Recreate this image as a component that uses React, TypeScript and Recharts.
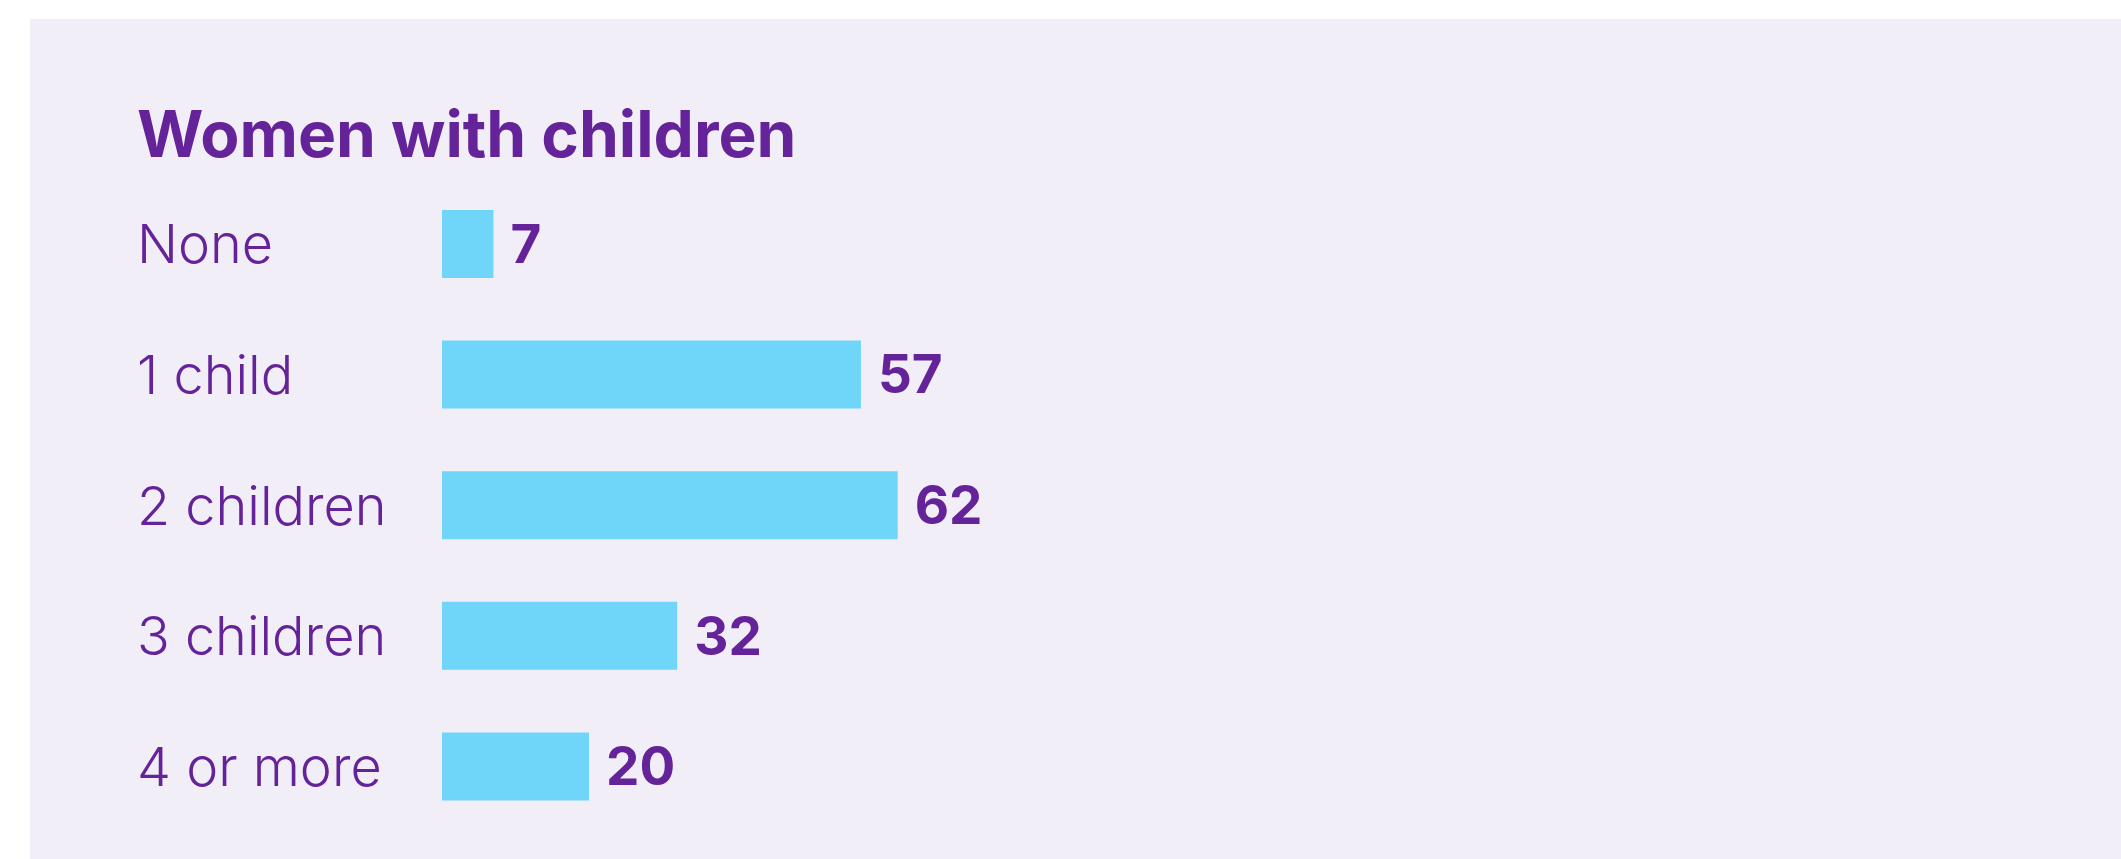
import { Bar, BarChart, LabelList, XAxis, YAxis } from 'recharts';

const categories = ['None', '1 child', '2 children', '3 children', '4 or more'];
const values = [7, 57, 62, 32, 20];
const title = 'Women with children';

const PURPLE = '#652399';
const BAR = '#6fd6f9';
const PANEL = '#f1eef8';
const FONT = 'Inter, "Open Sans", "Noto Sans", sans-serif';

const data = categories.map((name, i) => ({ name, value: values[i] }));

function CategoryTick(props: any) {
  const { y, payload } = props;
  return (
    <text
      x={137}
      y={y}
      dy={19}
      textAnchor="start"
      fill={PURPLE}
      fontFamily={FONT}
      fontWeight={300}
      fontSize={54}
    >
      {payload.value}
    </text>
  );
}

export default function App() {
  return (
    <div
      style={{
        position: 'fixed',
        left: 0,
        top: 0,
        width: 2121,
        height: 859,
        background: '#ffffff',
        overflow: 'hidden',
      }}
    >
      <div
        style={{
          position: 'absolute',
          left: 30,
          top: 19,
          right: 0,
          bottom: 0,
          background: PANEL,
        }}
      />
      <svg
        width={2121}
        height={859}
        style={{ position: 'absolute', left: 0, top: 0 }}
      >
        <text
          x={137}
          y={157}
          fill={PURPLE}
          fontFamily={FONT}
          fontWeight={700}
          fontSize={64}
        >
          {title}
        </text>
      </svg>
      <div style={{ position: 'absolute', left: 0, top: 0 }}>
        <BarChart
          width={2121}
          height={859}
          data={data}
          layout="vertical"
          margin={{ top: 179, right: 944, left: 0, bottom: 27 }}
        >
          <XAxis type="number" domain={[0, 100]} hide />
          <YAxis
            type="category"
            dataKey="name"
            width={442}
            axisLine={false}
            tickLine={false}
            tick={<CategoryTick />}
            interval={0}
          />
          <Bar
            dataKey="value"
            fill={BAR}
            barSize={68}
            isAnimationActive={false}
          >
            <LabelList
              dataKey="value"
              position="right"
              offset={17}
              fill={PURPLE}
              fontFamily={FONT}
              fontWeight={700}
              fontSize={53}
            />
          </Bar>
        </BarChart>
      </div>
    </div>
  );
}
